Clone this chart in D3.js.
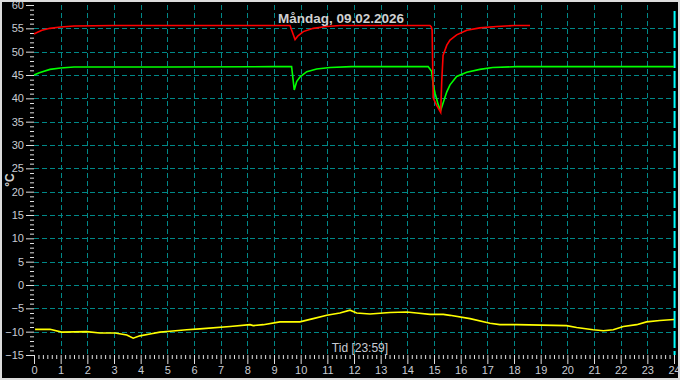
<!DOCTYPE html>
<html>
<head>
<meta charset="utf-8">
<script src="https://cdn.jsdelivr.net/npm/d3@7"></script>
<style>
  body { margin: 0; background: #000; }
  svg { display: block; }
  text { font-family: "Liberation Sans", Arial, sans-serif; }
</style>
</head>
<body>
<div id="chart"></div>
<script>
const titleText = "Måndag, 09.02.2026";
const xLabelText = "Tid [23:59]";
const yLabelText = "°C";

const hourTicks = d3.range(0, 25);
const tempTicks = d3.range(-15, 61, 5);

// red series (hour, °C)
const redHours = [0, 0.15, 0.3, 0.6, 1.0, 1.5, 3, 6, 9.0, 9.6, 9.79, 9.9, 10.1, 10.47, 10.97, 11.47,
  14.85, 14.9, 14.93, 14.97, 15.1, 15.25, 15.29, 15.34, 15.48, 15.6, 15.85, 16.23, 16.72, 17.35, 18.0, 18.6];
const redValues = [53.8, 54.2, 54.6, 55.0, 55.3, 55.5, 55.6, 55.6, 55.6, 55.6, 52.6, 53.4, 54.3, 55.0, 55.4, 55.6,
  55.6, 55.3, 54.6, 40.1, 38.5, 37.0, 43.6, 49.2, 51.4, 52.5, 53.6, 54.6, 55.1, 55.4, 55.6, 55.6];

// green series
const greenHours = [0, 0.2, 0.6, 1.0, 1.5, 5, 9.0, 9.66, 9.76, 9.85, 9.98, 10.23, 10.6, 11.1, 11.9,
  14.78, 14.91, 14.97, 15.04, 15.16, 15.25, 15.32, 15.48, 15.6, 15.85, 16.23, 16.72, 17.2, 18.1, 24];
const greenValues = [45.0, 45.5, 46.2, 46.5, 46.7, 46.7, 46.8, 46.8, 41.8, 43.6, 44.6, 45.7, 46.3, 46.6, 46.8,
  46.8, 45.8, 42.9, 41.1, 38.6, 37.4, 38.6, 41.4, 42.9, 44.7, 45.6, 46.2, 46.6, 46.8, 46.8];

// yellow series
const yellowHours = [0.04, 0.6, 1.04, 1.98, 2.47, 3.04, 3.48, 3.72, 3.97, 4.35, 4.72, 5.1, 5.73, 6.22, 7.35,
  8.1, 8.22, 8.6, 9.22, 9.97, 10.47, 10.98, 11.47, 11.85, 12.1, 12.6, 13.35, 13.98, 14.35, 14.85, 15.35,
  15.6, 16.35, 17.1, 17.47, 18.1, 19.97, 20.35, 20.97, 21.35, 21.72, 22.1, 22.6, 22.97, 23.47, 24.0];
const yellowValues = [-9.5, -9.5, -10.1, -10.0, -10.3, -10.3, -10.7, -11.4, -10.9, -10.5, -10.1, -9.9, -9.6, -9.4, -8.9,
  -8.5, -8.7, -8.5, -7.9, -7.9, -7.2, -6.5, -6.0, -5.4, -6.0, -6.2, -5.9, -5.8, -6.0, -6.3, -6.3,
  -6.5, -7.2, -8.2, -8.5, -8.5, -8.7, -9.1, -9.6, -9.8, -9.6, -8.9, -8.5, -7.9, -7.6, -7.4];

const nowHour = 23 + 59 / 60;

const width = 680, height = 380;

const svg = d3.select("#chart").append("svg")
  .attr("width", width)
  .attr("height", height);

svg.append("rect")
  .attr("x", 1).attr("y", 1)
  .attr("width", width - 2).attr("height", height - 2)
  .attr("fill", "#000")
  .attr("stroke", "#dcdcdc")
  .attr("stroke-width", 2);

const x = d3.scaleLinear().domain([0, 24]).range([34, 674]);
const y = d3.scaleLinear().domain([-15, 60]).range([355, 5]);

// grid
svg.append("g")
  .selectAll("line")
  .data(hourTicks.filter(h => h > 0 && h < 24))
  .enter().append("line")
  .attr("x1", d => Math.round(x(d)) + 0.5).attr("x2", d => Math.round(x(d)) + 0.5)
  .attr("y1", y(60)).attr("y2", y(-15))
  .attr("stroke", "#008888")
  .attr("stroke-dasharray", "5,3");

svg.append("g")
  .selectAll("line")
  .data(tempTicks.filter(t => t > -15 && t < 60))
  .enter().append("line")
  .attr("x1", x(0)).attr("x2", x(24))
  .attr("y1", d => Math.round(y(d)) + 0.5).attr("y2", d => Math.round(y(d)) + 0.5)
  .attr("stroke", "#008888")
  .attr("stroke-dasharray", "5,3");

// y axis
const yAxis = d3.axisLeft(y)
  .tickValues(tempTicks)
  .tickSize(8)
  .tickPadding(2);
const yg = svg.append("g")
  .attr("transform", `translate(${x(0)},0)`)
  .call(yAxis);
yg.select(".domain").remove();
yg.selectAll("line").attr("stroke", "#e0e0e0");
yg.selectAll("text").attr("fill", "#c8ccd4").style("font-size", "11px");

const yMinor = d3.axisLeft(y)
  .tickValues(d3.range(-15, 61, 1).filter(v => v % 5 !== 0))
  .tickSize(4)
  .tickFormat("");
const ymg = svg.append("g")
  .attr("transform", `translate(${x(0)},0)`)
  .call(yMinor);
ymg.select(".domain").remove();
ymg.selectAll("line").attr("stroke", "#e0e0e0");

// x axis
const xAxis = d3.axisBottom(x)
  .tickValues(hourTicks)
  .tickSize(9)
  .tickPadding(2);
const xg = svg.append("g")
  .attr("transform", `translate(0,${y(-15)})`)
  .call(xAxis);
xg.select(".domain").remove();
xg.selectAll("line").attr("stroke", "#e0e0e0");
xg.selectAll("text").attr("fill", "#c8ccd4").style("font-size", "11px");

const xMinor = d3.axisBottom(x)
  .tickValues(d3.range(0, 24 * 6 + 1).filter(i => i % 6 !== 0).map(i => i / 6))
  .tickSize(4)
  .tickFormat("");
const xmg = svg.append("g")
  .attr("transform", `translate(0,${y(-15)})`)
  .call(xMinor);
xmg.select(".domain").remove();
xmg.selectAll("line").attr("stroke", "#e0e0e0");

// current time marker
svg.append("line")
  .attr("x1", x(nowHour) + 1).attr("x2", x(nowHour) + 1)
  .attr("y1", y(60) + 6).attr("y2", y(-15))
  .attr("stroke", "#00ffff")
  .attr("stroke-width", 2)
  .attr("stroke-dasharray", "17,3");

// series
const line = d3.line()
  .x(d => x(d[0]))
  .y(d => y(d[1]));

const series = [
  { hours: yellowHours, values: yellowValues, color: "#ffff00" },
  { hours: greenHours, values: greenValues, color: "#00ff00" },
  { hours: redHours, values: redValues, color: "#ff0000" }
];

series.forEach(s => {
  svg.append("path")
    .datum(d3.zip(s.hours, s.values))
    .attr("fill", "none")
    .attr("stroke", s.color)
    .attr("stroke-width", 1.6)
    .attr("d", line);
});

// labels
svg.append("text")
  .attr("x", 341).attr("y", 23)
  .attr("text-anchor", "middle")
  .attr("fill", "#d0d0d0")
  .style("font-size", "13.5px")
  .style("font-weight", "bold")
  .text(titleText);

svg.append("text")
  .attr("x", 360).attr("y", 352)
  .attr("text-anchor", "middle")
  .attr("fill", "#c8ccd4")
  .style("font-size", "12px")
  .text(xLabelText);

svg.append("text")
  .attr("transform", "translate(14,180) rotate(-90)")
  .attr("text-anchor", "middle")
  .attr("fill", "#d0d0d0")
  .style("font-size", "12px")
  .style("font-weight", "bold")
  .text(yLabelText);
</script>
</body>
</html>
